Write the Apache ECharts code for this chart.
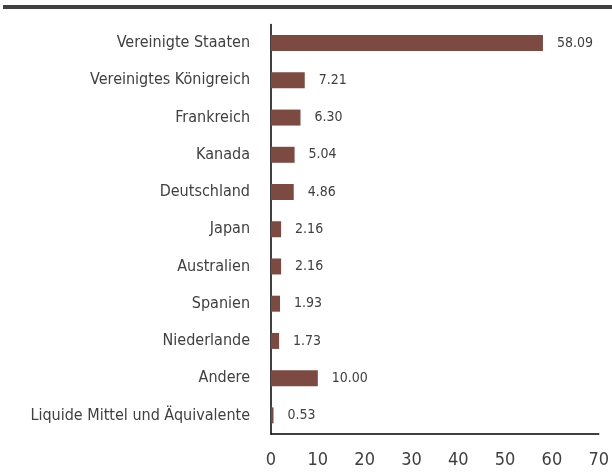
<!DOCTYPE html>
<html><head><meta charset="utf-8">
<script src="https://cdn.jsdelivr.net/npm/echarts@6/dist/echarts.min.js"></script>
<style>html,body{margin:0;padding:0;background:#fff}#c{width:612px;height:472px;position:relative}#bar{position:absolute;left:3px;right:0;top:5px;height:4px;background:#404040}</style>
</head><body><div id="c"></div><div id="bar"></div>
<script>
const categories = ["Vereinigte Staaten","Vereinigtes Königreich","Frankreich","Kanada","Deutschland","Japan","Australien","Spanien","Niederlande","Andere","Liquide Mittel und Äquivalente"];
const values = [58.09,7.21,6.30,5.04,4.86,2.16,2.16,1.93,1.73,10.00,0.53];
const xTicks = [0,10,20,30,40,50,60,70];
const FONT = "'Liberation Sans Narrow','DejaVu Sans Condensed','Roboto Condensed',sans-serif";
const chart = echarts.init(document.getElementById('c'));
chart.setOption({
  animation:false,
  grid:{left:271,right:12,top:24.5,bottom:38,containLabel:false},
  xAxis:{type:'value',min:xTicks[0],max:xTicks[xTicks.length-1],interval:10,
    axisLine:{show:true,lineStyle:{color:'#000',width:1.5}},axisTick:{show:false},splitLine:{show:false},
    axisLabel:{color:'#404040',fontSize:18,fontFamily:FONT,margin:17}},
  yAxis:{type:'category',data:categories,inverse:true,
    axisLine:{show:true,lineStyle:{color:'#000',width:1.5}},axisTick:{show:false},
    axisLabel:{color:'#404040',fontSize:16,fontFamily:FONT,margin:21}},
  series:[{type:'bar',data:values,barWidth:16,itemStyle:{color:'#7d4a42'},
    label:{show:true,position:'right',distance:14,color:'#404040',fontSize:14,fontFamily:FONT,
      formatter:p=>p.value.toFixed(2)}}]
});
</script></body></html>
